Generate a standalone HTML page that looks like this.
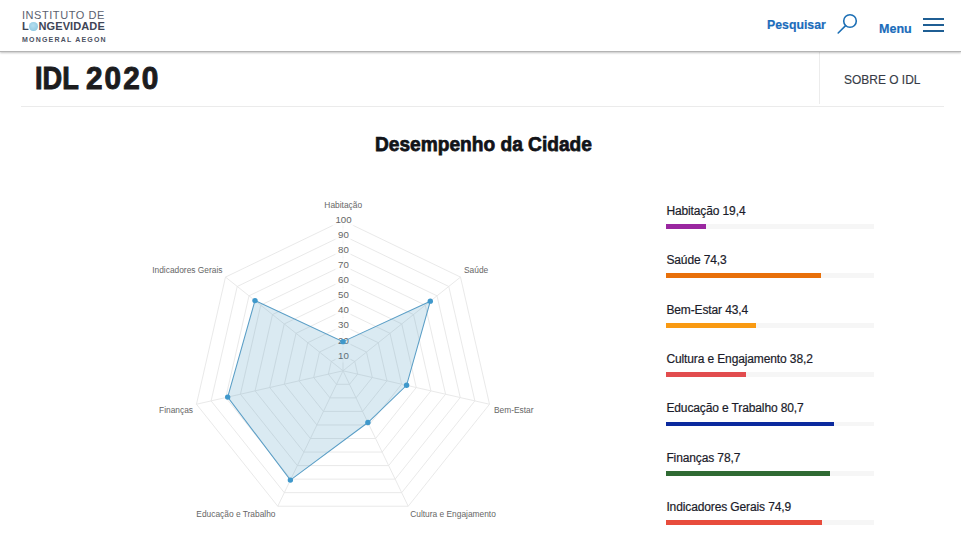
<!DOCTYPE html>
<html lang="pt-BR">
<head>
<meta charset="utf-8">
<title>IDL 2020 - Desempenho da Cidade</title>
<style>
*{box-sizing:border-box;margin:0;padding:0}
html,body{width:961px;height:543px;overflow:hidden;background:#fff}
body{position:relative;font-family:"Liberation Sans",Arial,sans-serif;color:#1e1f2b}
.abs{position:absolute;white-space:nowrap}
#hdr{position:absolute;left:0;top:0;width:961px;height:52px;background:#fff;border-bottom:1px solid #b4b4b4;box-shadow:0 1px 2px rgba(0,0,0,0.24);z-index:2}
.logo1{left:22px;top:8px;font-size:11px;line-height:14px;color:#5b6170;letter-spacing:0.55px}
.logo2{left:22px;top:19px;font-size:11px;line-height:14px;font-weight:bold;color:#3e4556;letter-spacing:0.1px}
.logo2 .dot{display:inline-block;width:8.3px;height:8.3px;border-radius:50%;background:radial-gradient(circle at 45% 40%,#b4def0,#93cbe2 70%,#86c2dc);vertical-align:-0.7px;margin:0 1px 0 0.4px}
.logo3{left:22px;top:34.8px;font-size:7px;line-height:9px;font-weight:bold;color:#4b5162;letter-spacing:1.2px}
.nav{font-weight:bold;color:#1a6cbb;font-size:13px;line-height:16px;-webkit-text-stroke:0.2px #1a6cbb}
.pesq{left:767px;top:17px;transform:scaleX(0.947);transform-origin:0 0}
.menu{left:878.6px;top:20.5px;transform:scaleX(0.965);transform-origin:0 0}
.ham{position:absolute;left:923px;width:21px;height:2px;background:#1f5e94}
.ttl{top:58px;font-size:32px;line-height:40px;font-weight:bold;color:#1c1c1e;-webkit-text-stroke:1px #1c1c1e}
.t1{left:35px;transform:scaleX(0.85);transform-origin:0 0}
.t2{left:86px;letter-spacing:2.2px;transform:scaleX(0.93);transform-origin:0 0}
.vline{position:absolute;left:819px;top:52px;width:1px;height:52px;background:#ececec}
.hline{position:absolute;left:21px;top:106px;width:923px;height:1px;background:#ebebeb}
.sobre{left:844px;top:71.5px;font-size:13px;line-height:16px;color:#363b46;-webkit-text-stroke:0.15px #363b46;transform:scaleX(0.92);transform-origin:0 0}
.h2{left:374.5px;top:131px;font-size:21px;line-height:26px;font-weight:bold;color:#121318;-webkit-text-stroke:0.75px #121318;transform:scaleX(0.911);transform-origin:0 0}
.pl{font-family:"Liberation Sans",Arial,sans-serif;font-size:8.4px;fill:#666}
.tk{font-family:"Liberation Sans",Arial,sans-serif;font-size:9.7px;fill:#666}
.lt{position:absolute;left:666.4px;font-size:12px;line-height:14px;color:#1b1c2a;white-space:nowrap;-webkit-text-stroke:0.2px #1b1c2a;letter-spacing:-0.12px}
.tr{position:absolute;left:666px;width:208px;height:4.5px;background:#f6f6f6}
.br{height:100%}
</style>
</head>
<body>
<div id="hdr">
  <div class="abs logo1">INSTITUTO DE</div>
  <div class="abs logo2">L<span class="dot"></span>NGEVIDADE</div>
  <div class="abs logo3">MONGERAL AEGON</div>
  <div class="abs nav pesq">Pesquisar</div>
  <svg class="abs" style="left:836px;top:12px" width="24" height="24" viewBox="0 0 24 24">
    <circle cx="14" cy="9" r="6.3" fill="none" stroke="#1c6fb5" stroke-width="1.6"/>
    <line x1="9.6" y1="13.6" x2="2.2" y2="21" stroke="#1c6fb5" stroke-width="1.6" stroke-linecap="round"/>
  </svg>
  <div class="abs nav menu">Menu</div>
  <div class="ham" style="top:18px"></div>
  <div class="ham" style="top:24px"></div>
  <div class="ham" style="top:30px"></div>
</div>
<div class="abs ttl t1">IDL</div>
<div class="abs ttl t2">2020</div>
<div class="vline"></div>
<div class="abs sobre">SOBRE O IDL</div>
<div class="hline"></div>
<div class="abs h2">Desempenho da Cidade</div>
<svg class="abs" style="left:0;top:0" width="961" height="543" viewBox="0 0 961 543">
<polygon points="343.00,355.77 354.75,361.43 357.65,374.14 349.52,384.34 336.48,384.34 328.35,374.14 331.25,361.43" fill="none" stroke="#e6e6e6" stroke-width="0.9"/>
<polygon points="343.00,340.74 366.50,352.06 372.31,377.49 356.04,397.88 329.96,397.88 313.69,377.49 319.50,352.06" fill="none" stroke="#e6e6e6" stroke-width="0.9"/>
<polygon points="343.00,325.71 378.25,342.69 386.96,380.83 362.56,411.42 323.44,411.42 299.04,380.83 307.75,342.69" fill="none" stroke="#e6e6e6" stroke-width="0.9"/>
<polygon points="343.00,310.68 390.00,333.32 401.61,384.18 369.09,424.97 316.91,424.97 284.39,384.18 296.00,333.32" fill="none" stroke="#e6e6e6" stroke-width="0.9"/>
<polygon points="343.00,295.65 401.75,323.94 416.27,387.52 375.61,438.51 310.39,438.51 269.73,387.52 284.25,323.94" fill="none" stroke="#e6e6e6" stroke-width="0.9"/>
<polygon points="343.00,280.62 413.51,314.57 430.92,390.87 382.13,452.05 303.87,452.05 255.08,390.87 272.49,314.57" fill="none" stroke="#e6e6e6" stroke-width="0.9"/>
<polygon points="343.00,265.59 425.26,305.20 445.57,394.21 388.65,465.59 297.35,465.59 240.43,394.21 260.74,305.20" fill="none" stroke="#e6e6e6" stroke-width="0.9"/>
<polygon points="343.00,250.56 437.01,295.83 460.23,397.56 395.17,479.13 290.83,479.13 225.77,397.56 248.99,295.83" fill="none" stroke="#e6e6e6" stroke-width="0.9"/>
<polygon points="343.00,235.53 448.76,286.46 474.88,400.90 401.69,492.67 284.31,492.67 211.12,400.90 237.24,286.46" fill="none" stroke="#e6e6e6" stroke-width="0.9"/>
<polygon points="343.00,220.50 460.51,277.09 489.53,404.24 408.21,506.22 277.79,506.22 196.47,404.24 225.49,277.09" fill="none" stroke="#e6e6e6" stroke-width="0.9"/>
<line x1="343.00" y1="370.80" x2="343.00" y2="220.50" stroke="#e6e6e6" stroke-width="0.9"/>
<line x1="343.00" y1="370.80" x2="460.51" y2="277.09" stroke="#e6e6e6" stroke-width="0.9"/>
<line x1="343.00" y1="370.80" x2="489.53" y2="404.24" stroke="#e6e6e6" stroke-width="0.9"/>
<line x1="343.00" y1="370.80" x2="408.21" y2="506.22" stroke="#e6e6e6" stroke-width="0.9"/>
<line x1="343.00" y1="370.80" x2="277.79" y2="506.22" stroke="#e6e6e6" stroke-width="0.9"/>
<line x1="343.00" y1="370.80" x2="196.47" y2="404.24" stroke="#e6e6e6" stroke-width="0.9"/>
<line x1="343.00" y1="370.80" x2="225.49" y2="277.09" stroke="#e6e6e6" stroke-width="0.9"/>
<text x="343.2" y="208.4" text-anchor="middle" class="pl">Habitação</text>
<text x="464.0" y="273.4" text-anchor="start" class="pl">Saúde</text>
<text x="494.0" y="413.1" text-anchor="start" class="pl">Bem-Estar</text>
<text x="410.2" y="517.4" text-anchor="start" class="pl">Cultura e Engajamento</text>
<text x="275.5" y="517.4" text-anchor="end" class="pl">Educação e Trabalho</text>
<text x="193.0" y="412.9" text-anchor="end" class="pl">Finanças</text>
<text x="222.5" y="273.4" text-anchor="end" class="pl">Indicadores Gerais</text>
<rect x="335.40" y="348.15" width="15.20" height="14.40" fill="rgba(255,255,255,0.75)"/>
<text x="343.50" y="358.60" text-anchor="middle" class="tk">10</text>
<rect x="335.40" y="333.05" width="15.20" height="14.40" fill="rgba(255,255,255,0.75)"/>
<text x="343.50" y="343.50" text-anchor="middle" class="tk">20</text>
<rect x="335.40" y="317.95" width="15.20" height="14.40" fill="rgba(255,255,255,0.75)"/>
<text x="343.50" y="328.40" text-anchor="middle" class="tk">30</text>
<rect x="335.40" y="302.85" width="15.20" height="14.40" fill="rgba(255,255,255,0.75)"/>
<text x="343.50" y="313.30" text-anchor="middle" class="tk">40</text>
<rect x="335.40" y="287.75" width="15.20" height="14.40" fill="rgba(255,255,255,0.75)"/>
<text x="343.50" y="298.20" text-anchor="middle" class="tk">50</text>
<rect x="335.40" y="272.65" width="15.20" height="14.40" fill="rgba(255,255,255,0.75)"/>
<text x="343.50" y="283.10" text-anchor="middle" class="tk">60</text>
<rect x="335.40" y="257.55" width="15.20" height="14.40" fill="rgba(255,255,255,0.75)"/>
<text x="343.50" y="268.00" text-anchor="middle" class="tk">70</text>
<rect x="335.40" y="242.45" width="15.20" height="14.40" fill="rgba(255,255,255,0.75)"/>
<text x="343.50" y="252.90" text-anchor="middle" class="tk">80</text>
<rect x="335.40" y="227.35" width="15.20" height="14.40" fill="rgba(255,255,255,0.75)"/>
<text x="343.50" y="237.80" text-anchor="middle" class="tk">90</text>
<rect x="332.60" y="212.25" width="20.80" height="14.40" fill="rgba(255,255,255,0.75)"/>
<text x="343.50" y="222.70" text-anchor="middle" class="tk">100</text>
<polygon points="343.00,341.64 430.31,301.17 406.59,385.32 367.91,422.53 290.37,480.08 227.68,397.12 254.99,300.61" fill="rgba(70,150,190,0.2)" stroke="#5a9ec6" stroke-width="1.05" stroke-linejoin="miter"/>
<circle cx="343.00" cy="341.64" r="2.7" fill="#3f98cb"/>
<circle cx="430.31" cy="301.17" r="2.7" fill="#3f98cb"/>
<circle cx="406.59" cy="385.32" r="2.7" fill="#3f98cb"/>
<circle cx="367.91" cy="422.53" r="2.7" fill="#3f98cb"/>
<circle cx="290.37" cy="480.08" r="2.7" fill="#3f98cb"/>
<circle cx="227.68" cy="397.12" r="2.7" fill="#3f98cb"/>
<circle cx="254.99" cy="300.61" r="2.7" fill="#3f98cb"/>
</svg>
<div class="lt" style="top:203.80px">Habitação 19,4</div>
<div class="tr" style="top:224.3px"><div class="br" style="width:40.4px;background:#9a27a0"></div></div>
<div class="lt" style="top:252.70px">Saúde 74,3</div>
<div class="tr" style="top:273.2px"><div class="br" style="width:154.5px;background:#e8700a"></div></div>
<div class="lt" style="top:302.70px">Bem-Estar 43,4</div>
<div class="tr" style="top:323.2px"><div class="br" style="width:90.3px;background:#f99a12"></div></div>
<div class="lt" style="top:351.80px">Cultura e Engajamento 38,2</div>
<div class="tr" style="top:372.3px"><div class="br" style="width:79.5px;background:#e24c4e"></div></div>
<div class="lt" style="top:401.20px">Educação e Trabalho 80,7</div>
<div class="tr" style="top:421.7px"><div class="br" style="width:167.9px;background:#0b2a9e"></div></div>
<div class="lt" style="top:450.80px">Finanças 78,7</div>
<div class="tr" style="top:471.3px"><div class="br" style="width:163.7px;background:#2f6a33"></div></div>
<div class="lt" style="top:499.70px">Indicadores Gerais 74,9</div>
<div class="tr" style="top:520.2px"><div class="br" style="width:155.8px;background:#e84c3c"></div></div>
</body>
</html>
